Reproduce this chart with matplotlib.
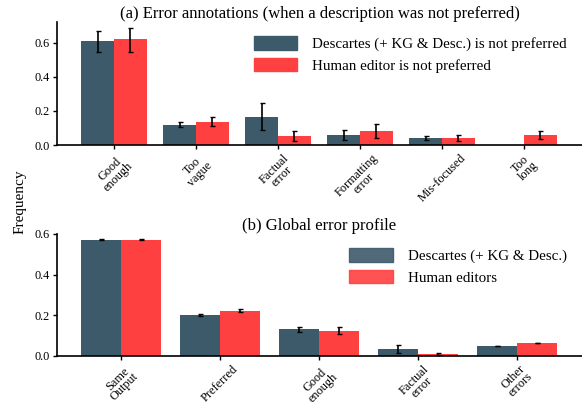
import numpy as np
import matplotlib
matplotlib.use("Agg")
import matplotlib.pyplot as plt
from matplotlib.patches import Patch

plt.rcParams['font.family'] = ['Liberation Serif', 'DejaVu Serif']

# (a) Error annotations
cats_a = ["Good\nenough", "Too\nvague", "Factual\nerror", "Formatting\nerror", "Mis-focused", "Too\nlong"]
desc_a = [0.606, 0.118, 0.165, 0.059, 0.043, 0.0]
desc_a_lo = [0.545, 0.106, 0.086, 0.028, 0.031, 0.0]
desc_a_hi = [0.666, 0.135, 0.243, 0.090, 0.053, 0.0]
hum_a = [0.618, 0.135, 0.053, 0.082, 0.043, 0.059]
hum_a_lo = [0.545, 0.114, 0.022, 0.041, 0.022, 0.034]
hum_a_hi = [0.684, 0.163, 0.084, 0.125, 0.060, 0.084]
labels_a = ["Descartes (+ KG & Desc.) is not preferred", "Human editor is not preferred"]

# (b) Global error profile
cats_b = ["Same\nOutput", "Preferred", "Good\nenough", "Factual\nerror", "Other\nerrors"]
desc_b = [0.571, 0.202, 0.133, 0.034, 0.049]
desc_b_lo = [0.569, 0.196, 0.120, 0.016, 0.047]
desc_b_hi = [0.573, 0.208, 0.145, 0.053, 0.051]
hum_b = [0.571, 0.222, 0.123, 0.010, 0.064]
hum_b_lo = [0.569, 0.215, 0.107, 0.005, 0.062]
hum_b_hi = [0.573, 0.229, 0.143, 0.015, 0.066]
labels_b = ["Descartes (+ KG & Desc.)", "Human editors"]

C_DARK = "#3d5a6b"
C_RED = "#ff4040"

fig = plt.figure(figsize=(5.82, 4.04), dpi=100)
ax1 = fig.add_axes([57/582, 259/404, 525/582, 123/404])
ax2 = fig.add_axes([57/582, 48/404, 525/582, 122/404])

def draw(ax, cats, d, dlo, dhi, h, hlo, hhi):
    x = np.arange(len(cats))
    w = 0.4
    d = np.array(d); h = np.array(h)
    ax.bar(x - w/2, d, w, color=C_DARK, linewidth=0)
    ax.bar(x + w/2, h, w, color=C_RED, linewidth=0)
    derr = np.array([d - np.array(dlo), np.array(dhi) - d])
    herr = np.array([h - np.array(hlo), np.array(hhi) - h])
    mask = d > 0
    ax.errorbar((x - w/2)[mask], d[mask], yerr=derr[:, mask], fmt='none', ecolor='black',
                elinewidth=1.2, capsize=1.8, capthick=1.0)
    ax.errorbar(x + w/2, h, yerr=herr, fmt='none', ecolor='black',
                elinewidth=1.2, capsize=1.8, capthick=1.0)
    ax.set_xticks(x)
    ax.set_xticklabels(cats, rotation=45, ha='center', fontsize=8.8, linespacing=0.85)
    for s in ['top', 'right']:
        ax.spines[s].set_visible(False)
    for s in ['left', 'bottom']:
        ax.spines[s].set_linewidth(1.2)
    ax.tick_params(axis='both', length=3, width=1)
    ax.tick_params(axis='y', labelsize=8.8, pad=2.5)
    ax.tick_params(axis='x', pad=2)

draw(ax1, cats_a, desc_a, desc_a_lo, desc_a_hi, hum_a, hum_a_lo, hum_a_hi)
ax1.set_xlim((57-114)/82, (582-114)/82)
ax1.set_ylim(0, 0.72)
ax1.set_yticks([0.0, 0.2, 0.4, 0.6])
ax1.set_title("(a) Error annotations (when a description was not preferred)", fontsize=12, pad=-0.5)
h1 = [Patch(color=C_DARK), Patch(color=C_RED)]
ax1.legend(h1, labels_a, loc='upper right', frameon=False, fontsize=10.8,
           handlelength=2.9, handleheight=1.0, handletextpad=1.0, labelspacing=0.45,
           bbox_to_anchor=(0.997, 0.995))

draw(ax2, cats_b, desc_b, desc_b_lo, desc_b_hi, hum_b, hum_b_lo, hum_b_hi)
ax2.set_xlim((57-121)/99, (582-121)/99)
ax2.set_ylim(0, 0.6)
ax2.set_yticks([0.0, 0.2, 0.4, 0.6])
ax2.set_title("(b) Global error profile", fontsize=12, pad=1)
h2 = [Patch(color=C_DARK, alpha=0.9), Patch(color=C_RED, alpha=0.9)]
ax2.legend(h2, labels_b, loc='upper right', frameon=False, fontsize=10.8,
           handlelength=2.9, handleheight=1.0, handletextpad=1.0, labelspacing=0.45,
           bbox_to_anchor=(0.997, 0.995))

fig.text(20/582, 0.5, "Frequency", rotation=90, va='center', ha='center', fontsize=11)

fig.savefig("out.png", dpi=100)
